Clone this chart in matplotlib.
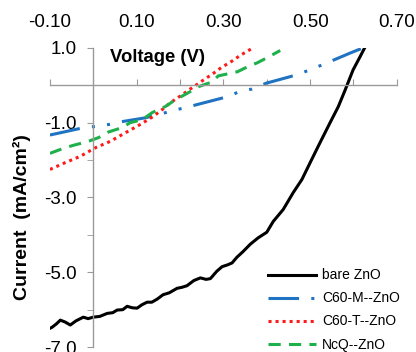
import matplotlib
matplotlib.use("Agg")
import matplotlib.pyplot as plt
from matplotlib.ticker import FixedLocator, FormatStrFormatter

plt.rcParams['font.family'] = ['Liberation Sans', 'DejaVu Sans']

# ---- data ----
bare_x = [-0.100, -0.095, -0.085, -0.076, -0.065, -0.053, -0.040, -0.023, -0.012, 0.000,
          0.015, 0.032, 0.045, 0.055, 0.068, 0.078, 0.090, 0.101, 0.112, 0.124,
          0.135, 0.147, 0.161, 0.175, 0.193, 0.205, 0.216, 0.232, 0.247, 0.260,
          0.270, 0.285, 0.297, 0.310, 0.320, 0.331, 0.345, 0.362, 0.380, 0.400,
          0.415, 0.438, 0.461, 0.481, 0.500, 0.523, 0.546, 0.565, 0.581, 0.599,
          0.615, 0.627]
bare_y = [-6.50, -6.47, -6.38, -6.28, -6.33, -6.41, -6.30, -6.20, -6.24, -6.20,
          -6.18, -6.10, -6.08, -6.01, -6.00, -5.91, -5.95, -5.96, -5.87, -5.80,
          -5.80, -5.72, -5.60, -5.55, -5.43, -5.40, -5.36, -5.22, -5.15, -5.19,
          -5.17, -4.97, -4.85, -4.80, -4.75, -4.60, -4.45, -4.25, -4.08, -3.93,
          -3.64, -3.32, -2.87, -2.52, -2.07, -1.53, -1.00, -0.57, -0.12, 0.41,
          0.76, 1.03]

c60m_x = [-0.100, -0.076, -0.025, 0.005, 0.035, 0.062, 0.120, 0.150, 0.181, 0.208,
          0.308, 0.335, 0.366, 0.400, 0.454, 0.481, 0.512, 0.539, 0.592, 0.622]
c60m_y = [-1.33, -1.27, -1.14, -1.10, -1.05, -0.98, -0.87, -0.79, -0.68, -0.61,
          -0.31, -0.18, -0.10, 0.06, 0.23, 0.33, 0.47, 0.60, 0.86, 1.00]

c60t_x = [-0.100, -0.065, -0.030, 0.005, 0.039, 0.074, 0.108, 0.136, 0.159, 0.176,
          0.204, 0.231, 0.254, 0.277, 0.296, 0.319, 0.339, 0.358, 0.372]
c60t_y = [-2.25, -2.07, -1.90, -1.67, -1.50, -1.27, -1.05, -0.85, -0.65, -0.48,
          -0.26, -0.04, 0.14, 0.32, 0.48, 0.64, 0.80, 0.93, 1.03]

ncq_x = [-0.100, -0.065, -0.041, -0.014, 0.012, 0.035, 0.067, 0.085, 0.113, 0.136,
         0.166, 0.189, 0.219, 0.242, 0.274, 0.288, 0.332, 0.355, 0.378, 0.403, 0.431]
ncq_y = [-1.82, -1.67, -1.59, -1.51, -1.40, -1.25, -1.13, -1.00, -0.92, -0.73,
         -0.57, -0.39, -0.20, -0.04, 0.09, 0.25, 0.36, 0.49, 0.60, 0.75, 0.93]

labels = ["bare ZnO", "C60-M--ZnO", "C60-T--ZnO", "NcQ--ZnO"]
x_ticklabels = [-0.10, 0.10, 0.30, 0.50, 0.70]
y_ticklabels = [-7.0, -5.0, -3.0, -1.0, 1.0]

# ---- figure ----
fig = plt.figure(figsize=(4.16, 3.52), dpi=100)
ax = fig.add_axes([0.12, 0.014, 0.834, 0.850])

lw = 2.2
ax.plot(bare_x, bare_y, color='black', lw=lw, label=labels[0])
ax.plot(c60m_x, c60m_y, color='#1F73C2', lw=lw, linestyle=(0, (10, 4, 1, 4, 1, 4)),
        label=labels[1])
ax.plot(c60t_x, c60t_y, color='#FF1A1A', lw=lw, linestyle=(0, (1, 1.3)), label=labels[2])
ax.plot(ncq_x, ncq_y, color='#1DB04B', lw=lw, linestyle=(0, (4, 2.7)), label=labels[3])

ax.set_xlim(-0.1, 0.7)
ax.set_ylim(-7, 1)

# spines through the origin
for s in ['top', 'right']:
    ax.spines[s].set_visible(False)
ax.spines['left'].set_position(('data', 0))
ax.spines['bottom'].set_position(('data', 0))
for s in ['left', 'bottom']:
    ax.spines[s].set_color('#9a9a9a')
    ax.spines[s].set_linewidth(1.0)

# x ticks on the y=0 line, labels at top via secondary axis
ax.xaxis.set_major_locator(FixedLocator([-0.1 + 0.1 * i for i in range(9)]))
ax.tick_params(axis='x', which='both', direction='in', length=4, color='#9a9a9a',
               labelbottom=False, top=False)
sec = ax.secondary_xaxis('top')
sec.set_xticks(x_ticklabels)
sec.xaxis.set_major_formatter(FormatStrFormatter('%.2f'))
sec.tick_params(axis='x', length=0, pad=12, labelsize=13.5)
sec.spines['top'].set_visible(False)

# y ticks
ax.yaxis.set_major_locator(FixedLocator(y_ticklabels))
ax.yaxis.set_minor_locator(FixedLocator([-6, -4, -2, 0]))
ax.yaxis.set_major_formatter(FormatStrFormatter('%.1f'))
ax.tick_params(axis='y', which='both', direction='out', length=4, color='#9a9a9a',
               pad=8, labelsize=13.5)

ax.text(0.039, 0.73, "Voltage (V)", fontsize=13.3, fontweight='bold',
        ha='left', va='center')
ax.text(-0.081, 0.433, "Current  (mA/cm²)", fontsize=14, fontweight='bold',
        rotation=90, ha='center', va='center', transform=ax.transAxes)

leg = ax.legend(loc='center left', bbox_to_anchor=(0.628, 0.124), frameon=False,
                fontsize=10, handlelength=3.5, handletextpad=0.4, labelspacing=0.65,
                borderaxespad=0, borderpad=0)

fig.savefig("out.png", dpi=100)
